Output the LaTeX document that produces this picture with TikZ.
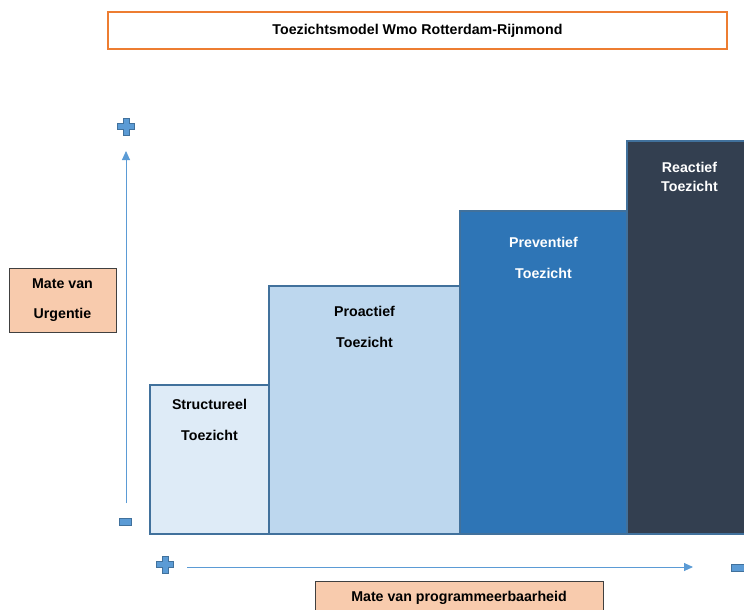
\documentclass[tikz,border=0pt]{standalone}
\usepackage{fontspec}
\setmainfont{Liberation Sans}
\usetikzlibrary{arrows.meta}
\definecolor{orangeb}{HTML}{ED7D31}
\definecolor{peach}{HTML}{F8CBAD}
\definecolor{bord}{HTML}{41719C}
\definecolor{arr}{HTML}{5B9BD5}
\definecolor{c1}{HTML}{DEEBF7}
\definecolor{c2}{HTML}{BDD7EE}
\definecolor{c3}{HTML}{2E75B6}
\definecolor{c4}{HTML}{333F50}
\begin{document}
\begin{tikzpicture}[x=1pt,y=-1pt,
  lbl/.style={font=\fontsize{14.2}{17}\selectfont\bfseries, inner sep=0pt},
  wlbl/.style={lbl, text=white},
  stepbox/.style={draw=bord, line width=1.5pt},
  axis/.style={draw=arr, line width=0.9pt, -{Triangle[length=9pt,width=8pt]}},
  sign/.style={fill=arr, draw=bord, line width=0.9pt},
  peachbox/.style={fill=peach, draw=black!75, line width=0.9pt}]
\useasboundingbox (0,0) rectangle (744,610);
% title
\draw[draw=orangeb, line width=1.5pt, fill=white] (108,12) rectangle (727,49);
\node[lbl] (title) at (417.5,30.5) {Toezichtsmodel Wmo Rotterdam-Rijnmond};
% steps
\draw[stepbox, fill=c1] (150,385) rectangle (269,534);
\draw[stepbox, fill=c2] (269,286) rectangle (460,534);
\draw[stepbox, fill=c3] (460,211) rectangle (627,534);
\draw[stepbox, fill=c4] (627,141) rectangle (746,534);
\node[lbl] (s1a) at (209.5,404) {Structureel};
\node[lbl] (s1b) at (209.5,435) {Toezicht};
\node[lbl] (s2a) at (364.5,311) {Proactief};
\node[lbl] (s2b) at (364.5,342) {Toezicht};
\node[wlbl] (s3a) at (543.5,242) {Preventief};
\node[wlbl] (s3b) at (543.5,273) {Toezicht};
\node[wlbl] (s4a) at (689.5,167) {Reactief};
\node[wlbl] (s4b) at (689.5,186) {Toezicht};
% vertical axis
\coordinate (vbot) at (126,503);
\coordinate (vtop) at (126,151);
\draw[axis] (vbot) -- (vtop);
\draw[sign] (123,118) -- (129,118) -- (129,123.5) -- (134.5,123.5) -- (134.5,129.5) -- (129,129.5) -- (129,135) -- (123,135) -- (123,129.5) -- (117.5,129.5) -- (117.5,123.5) -- (123,123.5) -- cycle;
\draw[sign] (119,518) rectangle (131,525);
% urgency box
\draw[peachbox] (9,268) rectangle (116,332);
\node[lbl] (u1) at (62.5,284) {Mate van};
\node[lbl] (u2) at (62.5,315) {Urgentie};
% horizontal axis
\coordinate (hl) at (187,567);
\coordinate (hr) at (693,567);
\draw[axis] (hl) -- (hr);
\draw[sign] (162,556) -- (168,556) -- (168,561.5) -- (173.5,561.5) -- (173.5,567.5) -- (168,567.5) -- (168,573) -- (162,573) -- (162,567.5) -- (156.5,567.5) -- (156.5,561.5) -- (162,561.5) -- cycle;
\draw[sign] (731,564.5) rectangle (745,571.5);
% programmability box
\draw[peachbox] (315,581) rectangle (603,614);
\node[lbl] (p1) at (459,598) {Mate van programmeerbaarheid};
\end{tikzpicture}
\end{document}
